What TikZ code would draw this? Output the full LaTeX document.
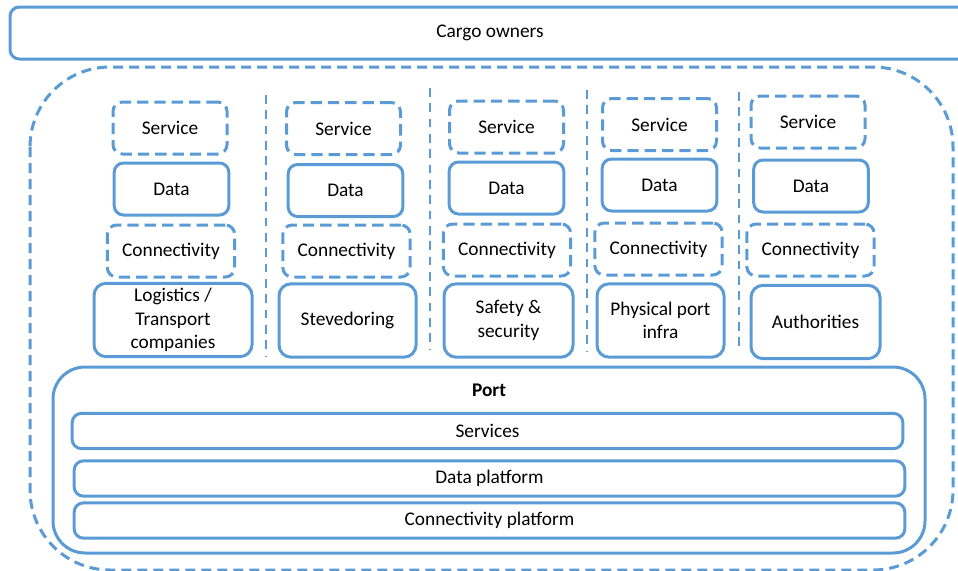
\documentclass[tikz,border=0pt]{standalone}
\usepackage{fontspec}
\setmainfont{Carlito}
\definecolor{portblue}{RGB}{91,155,213}

\begin{document}
\begin{tikzpicture}[x=0.75pt,y=-0.75pt,
	box/.style={draw=portblue, line width=2.25pt, rounded corners=7pt, inner sep=0pt,
		align=center, font=\fontsize{14.5}{17.5}\selectfont},
	dbox/.style={box, dash pattern=on 8.5pt off 4.5pt},
	svcbox/.style={dbox, minimum width=85.5pt, minimum height=39pt},
	databox/.style={box, minimum width=86pt, minimum height=39pt},
	connbox/.style={dbox, minimum width=95.5pt, minimum height=39pt},
	orgbox/.style={box, minimum height=55pt, rounded corners=9pt},
	barbox/.style={box, minimum width=623pt, minimum height=26.5pt},
	divider/.style={draw=portblue, line width=1.5pt, dash pattern=on 6.5pt off 5pt}]
	\useasboundingbox (0,0) rectangle (958,571);

	% top box
	\node[box, minimum width=720pt, minimum height=39pt] (cargo) at (490,33) {Cargo owners};

	% dashed frame
	\draw[draw=portblue, line width=2.25pt, dash pattern=on 7.5pt off 4.5pt, rounded corners=60pt]
		(30,67) rectangle (953,570);

	% column dividers
	\foreach \x/\a/\b in {266/95/357, 430/88/350, 587/90/352, 739/92/352}
		\draw[divider] (\x,\a) -- (\x,\b);

	% column 1
	\node[svcbox] (svc1) at (170,128) {Service};
	\node[databox] (data1) at (171.5,189) {Data};
	\node[connbox] (conn1) at (171,251) {Connectivity};
	\node[orgbox, minimum width=118.5pt] (logistics) at (173,320) {Logistics /\\Transport\\companies};

	% column 2
	\node[svcbox] (svc2) at (343.5,128.5) {Service};
	\node[databox] (data2) at (345.5,190.5) {Data};
	\node[connbox] (conn2) at (346.5,251) {Connectivity};
	\node[orgbox, minimum width=102.75pt] (stevedoring) at (347.5,320.5) {Stevedoring};

	% column 3
	\node[svcbox] (svc3) at (506.5,127) {Service};
	\node[databox] (data3) at (506.5,188) {Data};
	\node[connbox] (conn3) at (507,250) {Connectivity};
	\node[orgbox, minimum width=96.75pt] (safety) at (508.5,320.5) {Safety \&\\security};

	% column 4
	\node[svcbox] (svc4) at (659.5,124.5) {Service};
	\node[databox] (data4) at (659.5,185) {Data};
	\node[connbox] (conn4) at (658.5,249) {Connectivity};
	\node[orgbox, minimum width=95.25pt] (infra) at (660.5,320.5) {Physical port\\infra};

	% column 5
	\node[svcbox] (svc5) at (808,122) {Service};
	\node[databox] (data5) at (811,186) {Data};
	\node[connbox] (conn5) at (810.5,250) {Connectivity};
	\node[orgbox, minimum width=96.75pt] (authorities) at (815.5,322) {Authorities};

	% port
	\node[box, minimum width=654pt, minimum height=139.5pt, rounded corners=24pt] (port) at (489,460) {};
	\node[font=\fontsize{14.5}{17.5}\selectfont\bfseries] (portlabel) at (489,390) {Port};
	\node[barbox] (services) at (487.5,431) {Services};
	\node[barbox] (dataplat) at (489.5,478.5) {Data platform};
	\node[barbox] (connplat) at (489.5,520.5) {Connectivity platform};
\end{tikzpicture}
\end{document}
